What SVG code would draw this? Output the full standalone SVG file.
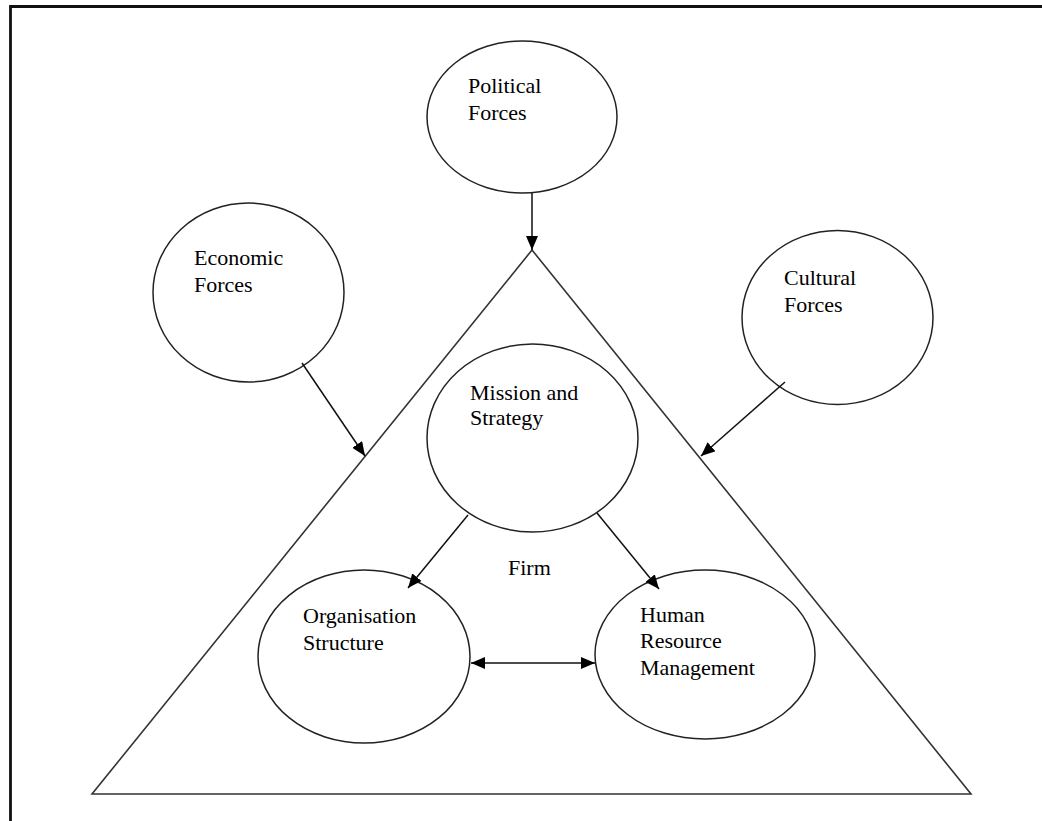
<svg xmlns="http://www.w3.org/2000/svg" width="1042" height="821" viewBox="0 0 1042 821">
  <style>
    .node ellipse { fill: #fff; stroke: #222; stroke-width: 1.5; }
    .lbl { font-family: "Liberation Serif", "Times New Roman", serif; font-size: 22px; fill: #000; }
    .edge { stroke: #111; stroke-width: 1.5; fill: none; }
  </style>
  <defs>
    <marker id="arrow" viewBox="0 0 14 12" refX="14" refY="6" markerWidth="14" markerHeight="12" markerUnits="userSpaceOnUse" orient="auto-start-reverse">
      <path d="M0,0 L14,6 L0,12 Z" fill="#000"/>
    </marker>
  </defs>

  <rect width="1042" height="821" fill="#fff"/>
  <!-- page frame -->
  <path d="M10.5,830 V6.5 H1050" fill="none" stroke="#111" stroke-width="2.8"/>

  <!-- firm triangle -->
  <g id="firm">
    <polygon points="532,250 92,794 971,794" fill="none" stroke="#333" stroke-width="1.6"/>
    <text class="lbl" x="508" y="575">Firm</text>
  </g>

  <g id="political" class="node">
    <ellipse cx="522" cy="117" rx="95" ry="76"/>
    <text class="lbl" x="468" y="93">Political</text>
    <text class="lbl" x="468" y="120">Forces</text>
  </g>

  <g id="economic" class="node">
    <ellipse cx="248.5" cy="292.5" rx="95.5" ry="89.5"/>
    <text class="lbl" x="194" y="265">Economic</text>
    <text class="lbl" x="194" y="292">Forces</text>
  </g>

  <g id="cultural" class="node">
    <ellipse cx="837.5" cy="317.5" rx="95.5" ry="87"/>
    <text class="lbl" x="784" y="285">Cultural</text>
    <text class="lbl" x="784" y="312">Forces</text>
  </g>

  <g id="mission" class="node">
    <ellipse cx="532.5" cy="438" rx="105.5" ry="94"/>
    <text class="lbl" x="470" y="400">Mission and</text>
    <text class="lbl" x="470" y="425">Strategy</text>
  </g>

  <g id="organisation" class="node">
    <ellipse cx="364" cy="656.5" rx="106" ry="86.5"/>
    <text class="lbl" x="303" y="623">Organisation</text>
    <text class="lbl" x="303" y="650">Structure</text>
  </g>

  <g id="hrm" class="node">
    <ellipse cx="705" cy="654.5" rx="110" ry="84.5"/>
    <text class="lbl" x="640" y="622">Human</text>
    <text class="lbl" x="640" y="648">Resource</text>
    <text class="lbl" x="640" y="675">Management</text>
  </g>

  <g id="connectors">
    <line class="edge" x1="532" y1="193" x2="532" y2="250" marker-end="url(#arrow)"/>
    <line class="edge" x1="302" y1="363" x2="365" y2="456" marker-end="url(#arrow)"/>
    <line class="edge" x1="785" y1="382" x2="701" y2="456" marker-end="url(#arrow)"/>
    <line class="edge" x1="468" y1="515" x2="408" y2="588" marker-end="url(#arrow)"/>
    <line class="edge" x1="597" y1="513" x2="659" y2="589" marker-end="url(#arrow)"/>
    <line class="edge" x1="471" y1="663" x2="595" y2="663" marker-start="url(#arrow)" marker-end="url(#arrow)"/>
  </g>
</svg>
